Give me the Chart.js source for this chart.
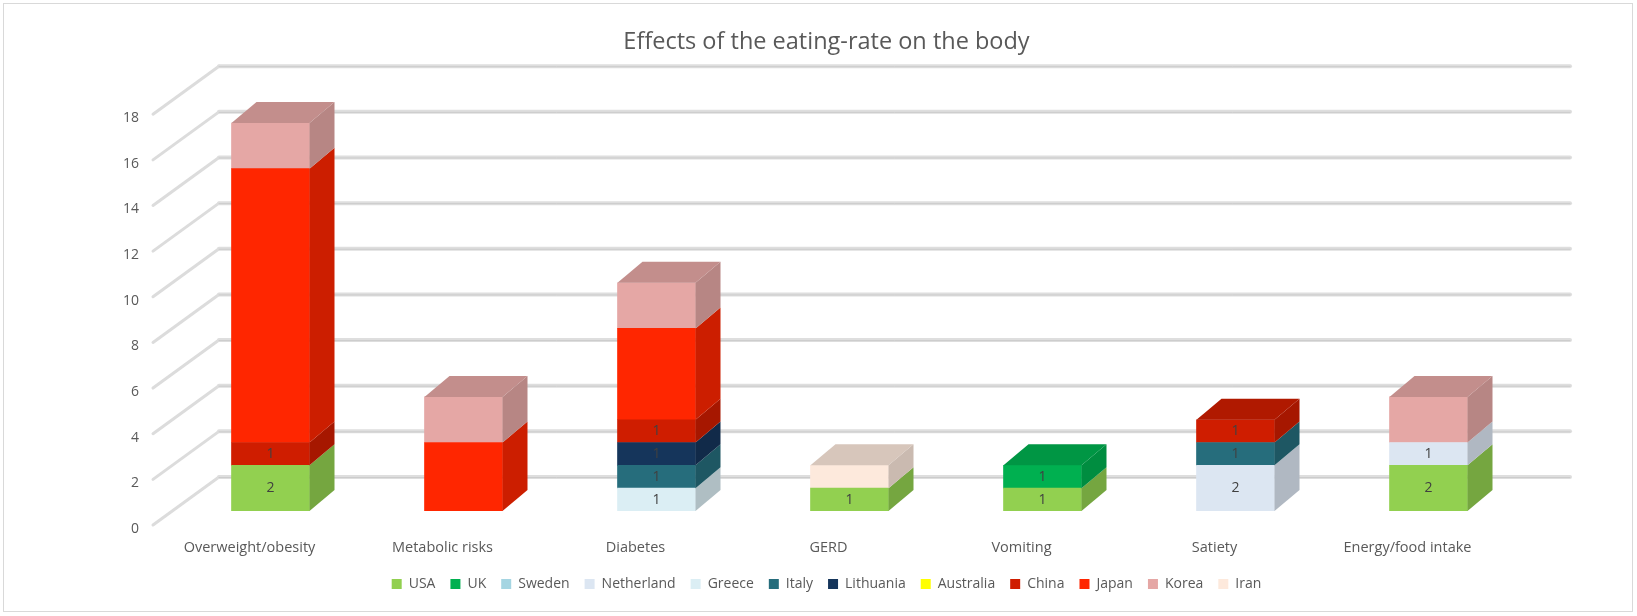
<!DOCTYPE html>
<html>
<head>
<meta charset="utf-8">
<script src="https://cdn.jsdelivr.net/npm/chart.js@4.4.0/dist/chart.umd.min.js"></script>
<style>
  html, body { margin: 0; padding: 0; background: #fff; }
  #wrap { width: 1637px; height: 616px; position: relative; }
</style>
</head>
<body>
<div id="wrap"><canvas id="barChart"></canvas></div>
<script>
// categories and values per country (stack order bottom -> top)
const categories = ['Overweight/obesity', 'Metabolic risks', 'Diabetes', 'GERD', 'Vomiting', 'Satiety', 'Energy/food intake'];
const usa        = [2, 0, 0, 1, 1, 0, 2];
const uk         = [0, 0, 0, 0, 1, 0, 0];
const sweden     = [0, 0, 0, 0, 0, 0, 0];
const netherland = [0, 0, 0, 0, 0, 2, 1];
const greece     = [0, 0, 1, 0, 0, 0, 0];
const italy      = [0, 0, 1, 0, 0, 1, 0];
const lithuania  = [0, 0, 1, 0, 0, 0, 0];
const australia  = [0, 0, 0, 0, 0, 0, 0];
const china      = [1, 0, 1, 0, 0, 1, 0];
const japan      = [12, 3, 4, 0, 0, 0, 0];
const korea      = [2, 2, 2, 0, 0, 0, 2];
const iran       = [0, 0, 0, 1, 0, 0, 0];
const yTicks = [0, 2, 4, 6, 8, 10, 12, 14, 16, 18];

const FONT = 'Open Sans';
const TEXT = '#595959';

// fake 3D: the bars' front faces sit on the scale, walls are offset from it
const depth = { x: 25, y: -21 };     // bar depth
const wall = { x: 45, y: -34 };      // back wall offset
const front = { x: -21, y: 14 };     // label plane offset

function shade(hex, f) {
  const n = parseInt(hex.slice(1), 16);
  const r = Math.round(((n >> 16) & 255) * f);
  const g = Math.round(((n >> 8) & 255) * f);
  const b = Math.round((n & 255) * f);
  return `rgb(${r},${g},${b})`;
}

const frame = {
  id: 'frame',
  beforeDraw(chart) {
    const ctx = chart.ctx;
    ctx.save();
    ctx.fillStyle = '#fff';
    ctx.fillRect(0, 0, chart.width, chart.height);
    ctx.strokeStyle = '#d9d9d9';
    ctx.lineWidth = 1;
    ctx.strokeRect(3.5, 3.5, chart.width - 8, chart.height - 8);
    ctx.restore();
  }
};

const walls = {
  id: 'walls',
  beforeDatasetsDraw(chart) {
    const { ctx, chartArea: a, scales: { y } } = chart;
    ctx.save();
    ctx.lineCap = 'round';
    yTicks.forEach(v => {
      const yb = y.getPixelForValue(v);
      // side wall diagonal
      ctx.strokeStyle = '#dcdcdc';
      ctx.lineWidth = 3;
      ctx.beginPath();
      ctx.moveTo(a.left + front.x, yb + front.y);
      ctx.lineTo(a.left + wall.x, yb + wall.y);
      ctx.stroke();
      // back wall line
      ctx.strokeStyle = '#dedede';
      ctx.lineWidth = 4;
      ctx.beginPath();
      ctx.moveTo(a.left + wall.x, yb + wall.y);
      ctx.lineTo(a.right + wall.x, yb + wall.y);
      ctx.stroke();
      ctx.strokeStyle = '#cccccc';
      ctx.lineWidth = 1;
      ctx.beginPath();
      ctx.moveTo(a.left + wall.x, yb + wall.y + 0.5);
      ctx.lineTo(a.right + wall.x, yb + wall.y + 0.5);
      ctx.stroke();
    });
    ctx.restore();
  },
  afterDatasetsDraw(chart) {
    const ctx = chart.ctx;
    ctx.save();
    categories.forEach((c, i) => {
      const segs = [];
      chart.data.datasets.forEach((ds, d) => {
        if (!ds.data[i]) return;
        const el = chart.getDatasetMeta(d).data[i];
        const p = el.getProps(['x', 'y', 'base', 'width'], true);
        segs.push({ ds, p, v: ds.data[i] });
      });
      segs.forEach((s, k) => {
        const x1 = s.p.x - s.p.width / 2, x2 = s.p.x + s.p.width / 2;
        const top = s.p.y, bot = s.p.base;
        ctx.fillStyle = shade(s.ds.backgroundColor, 0.8);
        ctx.beginPath();
        ctx.moveTo(x2, top);
        ctx.lineTo(x2 + depth.x, top + depth.y);
        ctx.lineTo(x2 + depth.x, bot + depth.y);
        ctx.lineTo(x2, bot);
        ctx.closePath();
        ctx.fill();
        if (k === segs.length - 1) {
          ctx.fillStyle = shade(s.ds.backgroundColor, 0.85);
          ctx.beginPath();
          ctx.moveTo(x1, top);
          ctx.lineTo(x1 + depth.x, top + depth.y);
          ctx.lineTo(x2 + depth.x, top + depth.y);
          ctx.lineTo(x2, top);
          ctx.closePath();
          ctx.fill();
        }
        if (s.ds.showValue) {
          ctx.fillStyle = '#404040';
          ctx.font = `14px ${FONT}`;
          ctx.textAlign = 'center';
          ctx.textBaseline = 'middle';
          ctx.fillText(String(s.v), s.p.x, (top + bot) / 2);
        }
      });
    });
    ctx.restore();
  }
};

// zero means "no segment" in the stacked chart
function series(label, data, color, showValue) {
  return { label, data: data.map(v => v || null), backgroundColor: color, borderWidth: 0, barThickness: 78, showValue };
}

const ctx = document.getElementById('barChart').getContext('2d');

const barChart = new Chart(ctx, {
  type: 'bar',
  data: {
    labels: categories,
    datasets: [
      series('USA', usa, '#92d050', true),
      series('UK', uk, '#00b050', true),
      series('Sweden', sweden, '#a5d5e2', true),
      series('Netherland', netherland, '#dce6f2', true),
      series('Greece', greece, '#dbeef4', true),
      series('Italy', italy, '#266d7c', true),
      series('Lithuania', lithuania, '#15355b', true),
      series('Australia', australia, '#ffff00', true),
      series('China', china, '#cf1d00', true),
      series('Japan', japan, '#ff2600', false),
      series('Korea', korea, '#e5a7a5', false),
      series('Iran', iran, '#fde9dc', false)
    ]
  },
  options: {
    responsive: true,
    maintainAspectRatio: false,
    animation: false,
    layout: { padding: { left: 16, right: 0, top: 0, bottom: 15 } },
    plugins: {
      title: {
        display: true,
        text: 'Effects of the eating-rate on the body',
        color: TEXT,
        font: { family: FONT, size: 23.5, weight: 'normal' },
        padding: { top: 28, bottom: 44 }
      },
      legend: {
        position: 'bottom',
        labels: { boxWidth: 10, boxHeight: 10, padding: 15, color: TEXT, font: { family: FONT, size: 14 } }
      },
      tooltip: { enabled: false }
    },
    scales: {
      x: {
        stacked: true,
        grid: { display: false, drawTicks: false },
        border: { display: false },
        ticks: { color: TEXT, font: { family: FONT, size: 14.5 }, padding: 28, labelOffset: front.x, maxRotation: 0 },
        afterFit: s => { s.height = 51; }
      },
      y: {
        stacked: true,
        min: 0,
        max: 18,
        afterBuildTicks: s => { s.ticks = yTicks.map(v => ({ value: v })); },
        grid: { display: false, drawTicks: false },
        border: { display: false },
        ticks: { color: TEXT, font: { family: FONT, size: 14 }, padding: 35, labelOffset: 18 },
        afterFit: s => { s.width = 158; }
      },
      yRight: {
        position: 'right',
        display: true,
        grid: { display: false, drawTicks: false },
        border: { display: false },
        ticks: { display: false },
        afterFit: s => { s.width = 112; }
      }
    }
  },
  plugins: [frame, walls]
});
</script>
</body>
</html>
